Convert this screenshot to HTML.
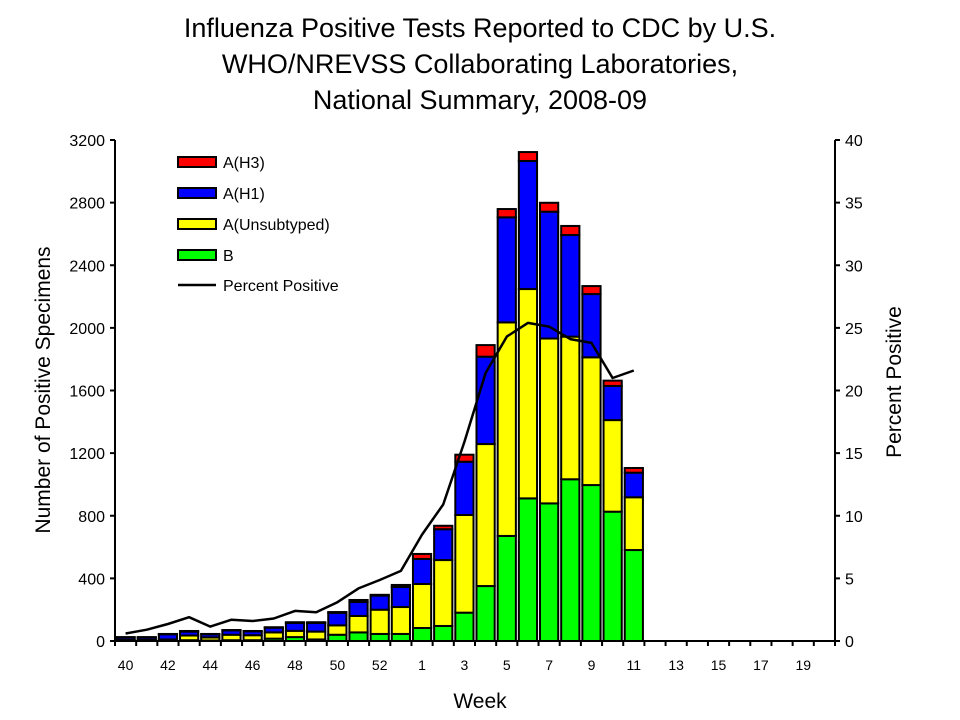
<!DOCTYPE html>
<html><head><meta charset="utf-8"><style>
html,body{margin:0;padding:0;background:#fff}
svg{display:block;font-family:"Liberation Sans",Arial,sans-serif}
</style></head><body>
<svg id="chart" width="960" height="720" viewBox="0 0 960 720">
<g font-size="27" text-anchor="middle" fill="#000">
<text x="480" y="37">Influenza Positive Tests Reported to CDC by U.S.</text>
<text x="480" y="73">WHO/NREVSS Collaborating Laboratories,</text>
<text x="480" y="109">National Summary, 2008-09</text>
</g>
<g id="bars"></g>
<g id="axes"></g>
<g id="line"></g>
<text x="480" y="708" font-size="21" text-anchor="middle">Week</text>
<text transform="translate(50,390) rotate(-90)" font-size="21" text-anchor="middle">Number of Positive Specimens</text>
<text transform="translate(901,382) rotate(-90)" font-size="21" text-anchor="middle">Percent Positive</text>
<g font-size="16">
<g><rect x="178" y="157" width="38" height="10" fill="#ff0000" stroke="#000" stroke-width="2"/><text x="223" y="168">A(H3)</text></g>
<g><rect x="178" y="188" width="38" height="10" fill="#0000ff" stroke="#000" stroke-width="2"/><text x="223" y="199">A(H1)</text></g>
<g><rect x="178" y="219" width="38" height="10" fill="#ffff00" stroke="#000" stroke-width="2"/><text x="223" y="230">A(Unsubtyped)</text></g>
<g><rect x="178" y="250" width="38" height="10" fill="#00ff00" stroke="#000" stroke-width="2"/><text x="223" y="261">B</text></g>
<g><line x1="178" y1="285" x2="216" y2="285" stroke="#000" stroke-width="2.5"/><text x="223" y="291">Percent Positive</text></g>
</g>
</svg>
<script>
const weeks = [40,41,42,43,44,45,46,47,48,49,50,51,52,53,1,2,3,4,5,6,7,8,9,10,11,12,13,14,15,16,17,18,19,20];
const weekLabels = ["40","42","44","46","48","50","52","1","3","5","7","9","11","13","15","17","19"];
const seriesB   = [3,3,2,5,3,5,5,15,25,10,40,55,45,45,83,96,181,351,671,911,879,1033,996,826,581];
const seriesUns = [5,5,8,30,20,35,32,40,40,50,60,105,155,172,281,421,624,907,1364,1337,1053,911,816,585,337];
const seriesH1  = [15,15,33,25,20,28,25,30,50,55,80,90,90,128,160,197,340,558,671,818,810,649,404,218,157];
const seriesH3  = [2,2,2,4,2,2,2,3,5,5,5,12,5,13,32,22,45,74,53,57,57,58,51,34,30];
const percentPos = [0.6,0.9,1.36,1.9,1.15,1.7,1.6,1.8,2.4,2.3,3.1,4.2,4.87,5.6,8.5,10.9,15.9,21.4,24.3,25.4,25.1,24.1,23.8,21.0,21.6];
const leftTicks = [0,400,800,1200,1600,2000,2400,2800,3200];
const rightTicks = [0,5,10,15,20,25,30,35,40];

const NS="http://www.w3.org/2000/svg";
const X0=115,X1=835,Y0=641,Y1=140;
const slot=(X1-X0)/weeks.length;
const yL=v=>Y0-(v/3200)*(Y0-Y1);
const yR=v=>Y0-(v/40)*(Y0-Y1);
const xC=i=>X0+slot*(i+0.5);
function mk(tag,attrs,parent){const e=document.createElementNS(NS,tag);for(const k in attrs)e.setAttribute(k,attrs[k]);parent.appendChild(e);return e;}

const barsG=document.getElementById('bars');
const series=[[seriesB,'#00ff00','b'],[seriesUns,'#ffff00','unsubtyped'],[seriesH1,'#0000ff','h1'],[seriesH3,'#ff0000','h3']];
const bw=slot*0.86;
for(let i=0;i<seriesB.length;i++){
  let cum=0;
  const g=mk('g',{},barsG);
  
  
  for(const [arr,col,nm] of series){
    const v=arr[i]||0;
    const r=mk('rect',{x:xC(i)-bw/2,y:yL(cum+v),width:bw,height:Math.max(0,yL(cum)-yL(cum+v)),fill:col,stroke:'#000','stroke-width':2},g);
    
    
    cum+=v;
  }
}

const ax=document.getElementById('axes');
let e;
e=mk('line',{x1:X0,y1:Y1,x2:X0,y2:Y0,stroke:'#000','stroke-width':2},ax);


e=mk('line',{x1:X1,y1:Y1,x2:X1,y2:Y0,stroke:'#000','stroke-width':2},ax);


e=mk('line',{x1:X0,y1:Y0,x2:X1,y2:Y0,stroke:'#000','stroke-width':2},ax);


leftTicks.forEach(v=>{
  mk('line',{x1:X0-5,y1:yL(v),x2:X0,y2:yL(v),stroke:'#000','stroke-width':2},ax);
  const t=mk('text',{x:X0-10,y:yL(v)+6,'font-size':16,'text-anchor':'end'},ax);
  t.textContent=v;
  
  
});
rightTicks.forEach(v=>{
  mk('line',{x1:X1,y1:yR(v),x2:X1+5,y2:yR(v),stroke:'#000','stroke-width':2},ax);
  const t=mk('text',{x:X1+10,y:yR(v)+6,'font-size':16},ax);
  t.textContent=v;
  
  
});
for(let i=0;i<=weeks.length;i++){
  mk('line',{x1:X0+slot*i,y1:Y0,x2:X0+slot*i,y2:Y0+5,stroke:'#000','stroke-width':2},ax);
}
weeks.forEach((w,i)=>{
  if(weekLabels.indexOf(String(w))<0)return;
  const t=mk('text',{x:xC(i),y:670,'font-size':14,'text-anchor':'middle'},ax);
  t.textContent=w;
  
  
});

const lg=document.getElementById('line');
const pts=percentPos.map((v,i)=>xC(i).toFixed(1)+','+yR(v).toFixed(1)).join(' ');
const pl=mk('polyline',{points:pts,fill:'none',stroke:'#000','stroke-width':2.5,'stroke-linejoin':'round'},lg);


</script>
</body></html>
